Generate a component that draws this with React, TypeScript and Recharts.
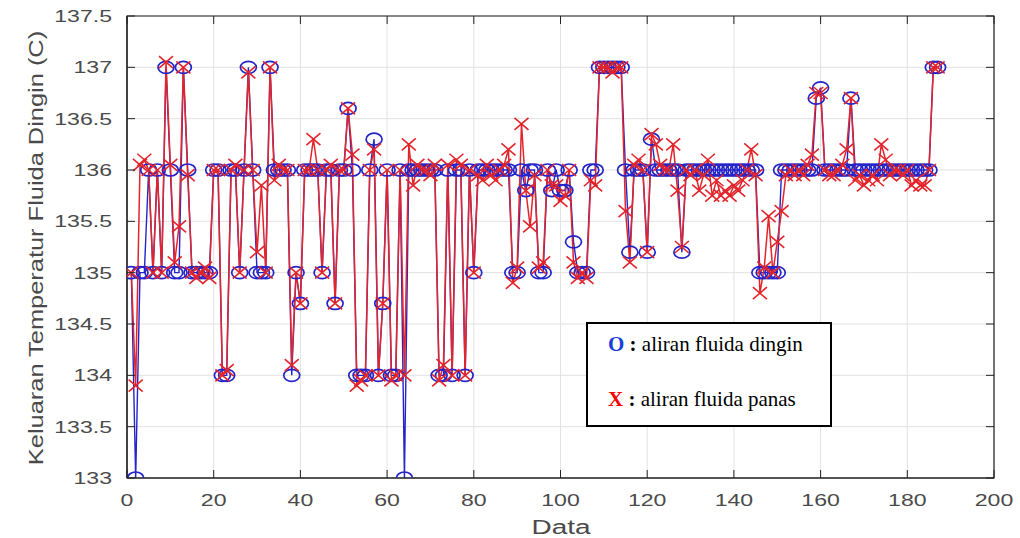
import React from 'react';
import { LineChart, Line, XAxis, YAxis, CartesianGrid, ReferenceArea } from 'recharts';

// Cold fluid outlet temperature (O, blue)
const coldFlow: number[] = [
  135, 133, 135, 135, 136, 135, 136, 135, 137, 136,
  135, 135, 137, 136, 135, 135, 135, 135, 135, 136,
  136, 134, 134, 136, 136, 135, 136, 137, 136, 135,
  135, 135, 137, 136, 136, 136, 136, 134, 135, 134.7,
  136, 136, 136, 136, 135, 136, 136, 134.7, 136, 136,
  136.6, 136, 134, 134, 134, 136, 136.3, 134, 134.7, 136,
  134, 134, 136, 133, 136, 136, 136, 136, 136, 136,
  136, 134, 134, 136, 134, 136, 136, 134, 136, 135,
  136, 136, 136, 136, 136, 136, 136, 136, 135, 135,
  136, 135.8, 136, 136, 135, 135, 136, 135.8, 136, 135.8,
  135.8, 136, 135.3, 135, 135, 135, 136, 136, 137, 137,
  137, 137, 137, 137, 136, 135.2, 136, 136, 136, 135.2,
  136.3, 136, 136, 136, 136, 136, 136, 135.2, 136, 136,
  136, 136, 136, 136, 136, 136, 136, 136, 136, 136,
  136, 136, 136, 136, 136, 135, 135, 135, 135, 135,
  136, 136, 136, 136, 136, 136, 136, 136, 136.7, 136.8,
  136, 136, 136, 136, 136, 136, 136.7, 136, 136, 136,
  136, 136, 136, 136, 136, 136, 136, 136, 136, 136,
  136, 136, 136, 136, 136, 137, 137,
];

// Hot fluid (X, red)
const hotFlow: number[] = [
  135, 133.9, 136.05, 136.1, 136, 135, 136, 135, 137.05, 136.05,
  135.1, 135.45, 137, 135.95, 135, 134.95, 135, 135.05, 134.95, 136,
  136, 134, 134.05, 136, 136.05, 135, 136, 136.95, 136, 135.2,
  135.85, 135, 137, 135.9, 136.05, 136, 136, 134.1, 135, 134.7,
  136, 136, 136.3, 136, 135, 136, 136.05, 134.7, 136, 136,
  136.6, 136.15, 133.9, 133.95, 134, 136, 136.2, 134, 134.7, 136,
  133.95, 134, 136, 134, 136.25, 135.85, 136.05, 136, 136, 135.95,
  136.05, 133.95, 134.1, 136.05, 134, 136.1, 136.05, 134, 136, 135,
  135.95, 135.9, 136.05, 135.95, 135.9, 136, 136.05, 136.2, 134.9, 135.05,
  136.45, 135.8, 135.45, 135.95, 135.05, 135.1, 136, 135.85, 135.85, 135.7,
  135.75, 136, 135.1, 134.95, 135, 134.95, 135.9, 135.85, 137, 137,
  137, 136.95, 137, 137, 135.6, 135.1, 136.05, 136.1, 136, 135.2,
  136.35, 136.25, 136.05, 136, 136, 136.25, 135.8, 135.25, 136, 135.95,
  136, 135.8, 135.95, 136.1, 135.75, 135.9, 135.75, 135.8, 135.75, 135.85,
  135.8, 135.9, 136, 136.2, 135.95, 134.8, 135.05, 135.55, 135, 135.3,
  135.6, 135.95, 136, 135.95, 136, 135.95, 136.05, 136.15, 136.75, 136.75,
  136, 135.95, 135.95, 136, 136.05, 136.2, 136.7, 135.9, 135.95, 135.85,
  135.9, 135.95, 135.9, 136.25, 136.1, 135.95, 136, 136, 135.95, 136,
  135.85, 135.9, 135.85, 135.85, 136, 137, 137,
];

const xTicks: number[] = [0, 20, 40, 60, 80, 100, 120, 140, 160, 180, 200];
const yTicks: number[] = [133, 133.5, 134, 134.5, 135, 135.5, 136, 136.5, 137, 137.5];

const data = coldFlow.map((v, i) => ({ idx: i + 1, cold: v, hot: hotFlow[i] }));

const PLOT_LEFT = 127;
const PLOT_RIGHT = 994;
const PLOT_TOP = 16;
const PLOT_BOTTOM = 478;
const TICK_LEN = 8;
const LABEL_COLOR = '#4a4a4a';
const FONT = 'Liberation Sans, Arial, sans-serif';

const BLUE = '#2424c8';
const RED = '#e3242b';

const fmt = (v: number) => (Number.isInteger(v) ? String(v) : v.toFixed(1));

const YTick = (props: any) => {
  const { y, payload } = props;
  const v = payload.value as number;
  return (
    <g>
      <line x1={PLOT_LEFT} x2={PLOT_LEFT + TICK_LEN} y1={y} y2={y} stroke="#222" strokeWidth={1} />
      <line x1={PLOT_RIGHT} x2={PLOT_RIGHT - TICK_LEN} y1={y} y2={y} stroke="#222" strokeWidth={1} />
      <g transform={`translate(112, ${y + 6})`}>
        <text transform="scale(1.4,1)" textAnchor="end" fontSize={16.5} fontFamily={FONT} fill={LABEL_COLOR}>
          {fmt(v)}
        </text>
      </g>
    </g>
  );
};

const XTick = (props: any) => {
  const { x, payload } = props;
  const v = payload.value as number;
  return (
    <g>
      <line x1={x} x2={x} y1={PLOT_BOTTOM} y2={PLOT_BOTTOM - TICK_LEN} stroke="#222" strokeWidth={1} />
      <line x1={x} x2={x} y1={PLOT_TOP} y2={PLOT_TOP + TICK_LEN} stroke="#222" strokeWidth={1} />
      <g transform={`translate(${x}, 506)`}>
        <text transform="scale(1.4,1)" textAnchor="middle" fontSize={16.5} fontFamily={FONT} fill={LABEL_COLOR}>
          {String(v)}
        </text>
      </g>
    </g>
  );
};

const CircleDot = (props: any) => {
  const { cx, cy, index } = props;
  if (cx == null || cy == null) return <g key={`c-${index}`} />;
  return <ellipse key={`c-${index}`} cx={cx} cy={cy} rx={8} ry={6} fill="none" stroke={BLUE} strokeWidth={1.7} />;
};

const CrossDot = (props: any) => {
  const { cx, cy, index } = props;
  if (cx == null || cy == null) return <g key={`x-${index}`} />;
  const w = 7;
  const h = 6;
  return (
    <g key={`x-${index}`}>
      <line x1={cx - w} y1={cy - h} x2={cx + w} y2={cy + h} stroke={RED} strokeWidth={1.6} />
      <line x1={cx - w} y1={cy + h} x2={cx + w} y2={cy - h} stroke={RED} strokeWidth={1.6} />
    </g>
  );
};

export default function App() {
  return (
    <div style={{ position: 'absolute', left: 0, top: 0, width: 1020, height: 538, background: '#fff' }}>
      <LineChart
        width={1020}
        height={538}
        data={data}
        margin={{ top: PLOT_TOP, right: 1020 - PLOT_RIGHT, bottom: 0, left: 0 }}
      >
        <CartesianGrid stroke="#e2e2e2" strokeWidth={1} horizontalValues={yTicks} verticalValues={xTicks} />
        <XAxis
          dataKey="idx"
          type="number"
          domain={[0, 200]}
          ticks={xTicks}
          height={538 - PLOT_BOTTOM}
          axisLine={{ stroke: '#222', strokeWidth: 1.2 }}
          tickLine={false}
          tick={<XTick />}
          interval={0}
          allowDataOverflow
        />
        <YAxis
          type="number"
          domain={[133, 137.5]}
          ticks={yTicks}
          width={PLOT_LEFT}
          axisLine={{ stroke: '#222', strokeWidth: 1.2 }}
          tickLine={false}
          tick={<YTick />}
          interval={0}
          allowDataOverflow
        />
        <ReferenceArea x1={0} x2={200} y1={133} y2={137.5} fill="none" stroke="#222" strokeWidth={1.2} ifOverflow="visible" />
        <Line
          type="linear"
          dataKey="cold"
          stroke={BLUE}
          strokeWidth={1.4}
          dot={(p: any) => <CircleDot {...p} />}
          activeDot={false}
          isAnimationActive={false}
        />
        <Line
          type="linear"
          dataKey="hot"
          stroke={RED}
          strokeWidth={1.5}
          dot={(p: any) => <CrossDot {...p} />}
          activeDot={false}
          isAnimationActive={false}
        />
        <text x={561} y={534} textAnchor="middle" fontSize={20} fontFamily={FONT} fill={LABEL_COLOR} transform="translate(561,0) scale(1.4,1) translate(-561,0)">
          Data
        </text>
        <text
          transform="translate(43,248) rotate(-90) scale(1.21,1)"
          textAnchor="middle"
          fontSize={21}
          fontFamily={FONT}
          fill={LABEL_COLOR}
        >
          Keluaran Temperatur Fluida Dingin (C)
        </text>
      </LineChart>
      <div
        style={{
          position: 'absolute',
          left: 586,
          top: 322,
          width: 242,
          height: 101,
          border: '2px solid #000',
          background: '#fff',
          fontFamily: 'Liberation Serif, Times New Roman, serif',
          fontSize: 21,
          color: '#000',
          boxSizing: 'content-box',
        }}
      >
        <div style={{ position: 'absolute', left: 20, top: 8, whiteSpace: 'nowrap', lineHeight: '24px' }}>
          <b style={{ color: '#1a3ed8' }}>O</b>
          <b> : </b>aliran fluida dingin
        </div>
        <div style={{ position: 'absolute', left: 20, top: 63, whiteSpace: 'nowrap', lineHeight: '24px' }}>
          <b style={{ color: '#ff0000' }}>X</b>
          <b> : </b>aliran fluida panas
        </div>
      </div>
    </div>
  );
}
